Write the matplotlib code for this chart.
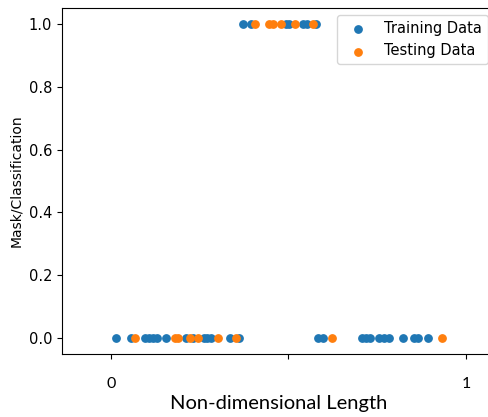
import numpy as np
import matplotlib.pyplot as plt

# training points (position, class)
train_x0 = [0.015, 0.056, 0.096, 0.107, 0.118, 0.130, 0.155, 0.211, 0.231, 0.262,
            0.270, 0.282, 0.335, 0.360, 0.583, 0.597, 0.707, 0.718, 0.730, 0.755,
            0.769, 0.783, 0.823, 0.854, 0.865, 0.893]
train_x1 = [0.372, 0.394, 0.493, 0.501, 0.541, 0.552, 0.577]

# testing points
test_x0 = [0.068, 0.180, 0.189, 0.222, 0.245, 0.301, 0.352, 0.622, 0.932]
test_x1 = [0.406, 0.445, 0.456, 0.479, 0.518, 0.569]

train_x = train_x0 + train_x1
train_y = [0]*len(train_x0) + [1]*len(train_x1)
test_x = test_x0 + test_x1
test_y = [0]*len(test_x0) + [1]*len(test_x1)

fig = plt.figure(figsize=(4.89, 4.17), dpi=100)
ax = fig.add_axes([62/489, 1-354/417, 433/489, 346/417])

ax.scatter(train_x, train_y, s=28, color="#1f77b4", label="Training Data")
ax.scatter(test_x, test_y, s=28, color="#ff7f0e", label="Testing Data")

ax.set_xlim(-0.138, 1.082)
ax.set_ylim(-0.05, 1.05)
ax.set_xticks([0, 0.5, 1])
ax.set_xticklabels(["0", "", "1"], family="Lato", fontsize=11.5)
ax.tick_params(axis="x", pad=13)
ax.set_yticks(np.arange(0, 1.01, 0.2))
ax.tick_params(axis="y", labelsize=10.5)
ax.set_ylabel("Mask/Classification", fontsize=10)
ax.set_xlabel("Non-dimensional Length", family="Lato", fontsize=14.5, labelpad=3)
ax.spines["right"].set_visible(False)
ax.legend(loc="upper right", fontsize=10.5)

fig.savefig("out.png", dpi=100)
